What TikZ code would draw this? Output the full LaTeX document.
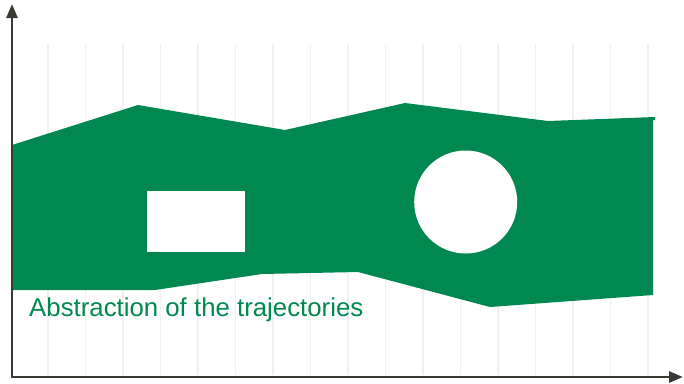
\documentclass[tikz,border=0pt]{standalone}
\usepackage{fontspec}
\setmainfont{Liberation Sans}
\usetikzlibrary{arrows.meta}
\definecolor{trajgreen}{HTML}{008850}
\definecolor{axisgray}{HTML}{3A3A35}
\definecolor{gridgray}{HTML}{F0F0F0}
\tikzset{
  gridline/.style={draw=gridgray, line width=1.2pt},
  axisline/.style={draw=axisgray, line width=2.8pt, -{Triangle[length=14pt,width=11pt]}},
  band/.style={fill=trajgreen},
  hole/.style={fill=white},
  caption/.style={text=trajgreen, font=\fontsize{25.8}{30}\selectfont, anchor=base west, inner sep=0pt}
}
\begin{document}
\begin{tikzpicture}[x=1pt,y=-1pt]
\useasboundingbox (0,0) rectangle (684,383);
% grid
\foreach \gx in {48,85.5,123,160.5,198,235.5,273,310.5,348,385.5,423,460.5,498,535.5,573,610.5,648}
  \draw[gridline] (\gx,44) -- (\gx,375);
% trajectory band
\fill[band] (12,145) -- (138,105) -- (285,130) -- (405,103) -- (548,121) -- (655,117)
  -- (655,120) -- (653,120) -- (653,295) -- (490,307) -- (358,272) -- (262,274) -- (155,290) -- (12,290) -- cycle;
\fill[hole] (147,191) rectangle (245,252);
\fill[hole] (465.7,202) circle (51.5);
% axes
\coordinate (origin) at (12,377);
\coordinate (ytip) at (12,4);
\coordinate (xtip) at (683,377);
\draw[axisline] ([xshift=-1.4pt]origin) -- (xtip);
\draw[axisline] ([yshift=1.4pt]origin) -- (ytip);
% caption
\node[caption] (label) at (29,316) {Abstraction of the trajectories};
\end{tikzpicture}
\end{document}
